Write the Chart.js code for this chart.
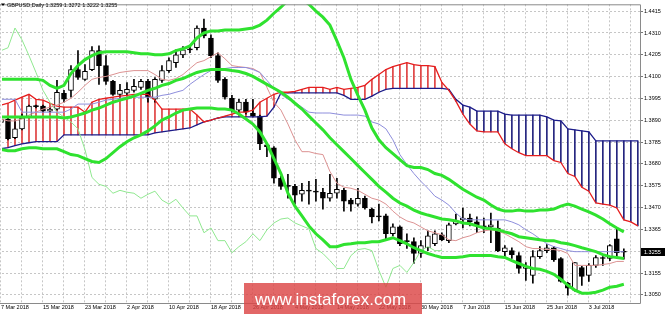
<!DOCTYPE html>
<html>
<head>
<meta charset="utf-8">
<script src="https://cdn.jsdelivr.net/npm/chart.js@4.4.1/dist/chart.umd.min.js"></script>
<style>
  html, body { margin: 0; padding: 0; background: #fff; }
  #wrap { position: relative; width: 665px; height: 314px; }
</style>
</head>
<body>
<div id="wrap"><canvas id="chart" width="665" height="314"></canvas></div>
<script>
// GBPUSD daily, 7 Mar 2018 .. 10 Jul 2018 (bar index 0 = 7 Mar)
var symbol = 'GBPUSD,Daily';

var dateLabels = ['7 Mar 2018', '15 Mar 2018', '23 Mar 2018', '2 Apr 2018', '10 Apr 2018',
  '18 Apr 2018', '26 Apr 2018', '4 May 2018', '14 May 2018', '22 May 2018', '30 May 2018',
  '7 Jun 2018', '15 Jun 2018', '25 Jun 2018', '3 Jul 2018'];
var dateIdx = [0, 6, 12, 18, 24, 30, 36, 42, 48, 54, 60, 66, 72, 78, 84];

var yTicks = [1.4415, 1.4310, 1.4205, 1.4100, 1.3995, 1.3890, 1.3785, 1.3680,
  1.3575, 1.3470, 1.3365, 1.3260, 1.3155, 1.3050];
var hiddenYTick = 1.3260;

var opens = [1.3880,1.3896,1.3806,1.3849,1.3906,1.3958,1.3958,1.3934,1.3944,1.4020,
  1.4034,1.4134,1.4087,1.4134,1.4225,1.4153,1.4077,1.4015,1.4020,1.4034,
  1.4048,1.4077,1.3991,1.4082,1.4129,1.4167,1.4205,1.4229,1.4239,1.4334,
  1.4286,1.4201,1.4087,1.3996,1.3939,1.3977,1.3925,1.3910,1.3772,1.3758,
  1.3611,1.3577,1.3572,1.3534,1.3553,1.3549,1.3544,1.3515,1.3539,1.3553,
  1.3506,1.3487,1.3515,1.3463,1.3430,1.3430,1.3344,1.3377,1.3311,1.3306,
  1.3249,1.3277,1.3296,1.3339,1.3311,1.3392,1.3411,1.3420,1.3401,1.3382,
  1.3377,1.3372,1.3258,1.3263,1.3239,1.3177,1.3144,1.3234,1.3263,1.3277,
  1.3225,1.3106,1.3073,1.3182,1.3144,1.3192,1.3225,1.3225,1.3320,1.3259];
var highs = [1.3935,1.3906,1.3891,1.3920,1.3963,1.3963,1.3963,1.3953,1.4082,1.4034,
  1.4153,1.4225,1.4158,1.4244,1.4248,1.4201,1.4082,1.4063,1.4072,1.4087,
  1.4087,1.4087,1.4096,1.4153,1.4191,1.4229,1.4244,1.4248,1.4345,1.4377,
  1.4301,1.4215,1.4096,1.4010,1.3991,1.3991,1.3991,1.3915,1.3777,1.3763,
  1.3620,1.3630,1.3582,1.3587,1.3596,1.3606,1.3563,1.3630,1.3611,1.3563,
  1.3515,1.3563,1.3525,1.3468,1.3487,1.3439,1.3392,1.3382,1.3344,1.3325,
  1.3311,1.3358,1.3358,1.3349,1.3396,1.3439,1.3468,1.3439,1.3425,1.3420,
  1.3444,1.3406,1.3287,1.3277,1.3253,1.3206,1.3263,1.3282,1.3292,1.3282,
  1.3230,1.3111,1.3206,1.3187,1.3201,1.3239,1.3234,1.3292,1.3368,1.3272];
var lows = [1.3862,1.3796,1.3801,1.3844,1.3901,1.3949,1.3929,1.3929,1.3939,1.3977,
  1.4001,1.4087,1.4082,1.4129,1.4063,1.4063,1.4010,1.4001,1.4010,1.4025,
  1.4039,1.3977,1.3977,1.4072,1.4120,1.4144,1.4191,1.4215,1.4229,1.4286,
  1.4191,1.4072,1.3991,1.3929,1.3929,1.3920,1.3906,1.3749,1.3715,1.3587,
  1.3558,1.3515,1.3487,1.3501,1.3487,1.3501,1.3463,1.3501,1.3515,1.3453,
  1.3453,1.3477,1.3463,1.3396,1.3406,1.3311,1.3334,1.3287,1.3273,1.3201,
  1.3230,1.3263,1.3287,1.3311,1.3301,1.3387,1.3372,1.3382,1.3349,1.3349,
  1.3301,1.3258,1.3230,1.3225,1.3154,1.3120,1.3106,1.3225,1.3253,1.3211,
  1.3111,1.3049,1.3068,1.3096,1.3115,1.3182,1.3192,1.3215,1.3234,1.3222];
var closes = [1.3896,1.3801,1.3849,1.3901,1.3958,1.3956,1.3934,1.3944,1.4025,1.3991,
  1.4134,1.4096,1.4125,1.4225,1.4153,1.4077,1.4015,1.4034,1.4039,1.4053,
  1.4077,1.4001,1.4087,1.4129,1.4177,1.4205,1.4229,1.4234,1.4334,1.4296,
  1.4201,1.4082,1.4001,1.3939,1.3977,1.3929,1.3910,1.3777,1.3763,1.3611,
  1.3572,1.3572,1.3530,1.3553,1.3549,1.3544,1.3515,1.3539,1.3558,1.3501,
  1.3487,1.3515,1.3468,1.3425,1.3425,1.3344,1.3377,1.3296,1.3306,1.3249,
  1.3287,1.3334,1.3344,1.3315,1.3387,1.3406,1.3420,1.3401,1.3387,1.3377,
  1.3387,1.3263,1.3277,1.3244,1.3177,1.3187,1.3234,1.3263,1.3277,1.3220,
  1.3115,1.3082,1.3206,1.3139,1.3192,1.3230,1.3227,1.3287,1.3253,1.3255];

// Ichimoku
var tenkan = [1.3896,1.3887,1.3887,1.3896,1.3915,1.3929,1.3944,1.3953,1.3963,1.3977,
  1.3996,1.4025,1.4058,1.4087,1.4096,1.4101,1.4110,1.4120,1.4125,1.4129,
  1.4129,1.4129,1.4110,1.4087,1.4082,1.4091,1.4110,1.4139,1.4167,1.4177,
  1.4196,1.4215,1.4186,1.4153,1.4148,1.4144,1.4139,1.4120,1.4048,1.3977,
  1.3939,1.3872,1.3796,1.3739,1.3739,1.3730,1.3725,1.3644,1.3587,1.3568,
  1.3563,1.3553,1.3534,1.3515,1.3506,1.3487,1.3453,1.3425,1.3406,1.3396,
  1.3377,1.3358,1.3349,1.3339,1.3315,1.3311,1.3325,1.3334,1.3349,1.3358,
  1.3363,1.3358,1.3344,1.3325,1.3306,1.3282,1.3273,1.3273,1.3268,1.3268,
  1.3263,1.3249,1.3192,1.3192,1.3192,1.3192,1.3196,1.3201,1.3211,1.3211];
var kijun = [1.3991,1.3991,1.3991,1.3929,1.3929,1.3929,1.3929,1.3929,1.3929,1.3929,
  1.3944,1.3968,1.3968,1.3968,1.3977,1.3987,1.3991,1.3996,1.4001,1.4001,
  1.4001,1.4001,1.4001,1.4010,1.4015,1.4025,1.4034,1.4063,1.4087,1.4110,
  1.4129,1.4134,1.4139,1.4144,1.4144,1.4144,1.4134,1.4120,1.4082,1.4044,
  1.4015,1.3991,1.3977,1.3953,1.3929,1.3925,1.3925,1.3925,1.3920,1.3915,
  1.3915,1.3915,1.3910,1.3882,1.3872,1.3849,1.3796,1.3725,1.3677,1.3634,
  1.3596,1.3563,1.3525,1.3506,1.3482,1.3444,1.3415,1.3411,1.3411,1.3411,
  1.3411,1.3411,1.3411,1.3401,1.3387,1.3363,1.3344,1.3320,1.3296,1.3282,
  1.3273,1.3263,1.3258,1.3258,1.3258,1.3258,1.3258,1.3258,1.3258,1.3258];
var chikou = [1.4225,1.4239,1.4334,1.4277,1.4201,1.4120,1.4034,1.3977,1.3929,1.3906,
  1.3882,1.3849,1.3749,1.3615,1.3582,1.3572,1.3539,1.3553,1.3544,1.3539,
  1.3515,1.3534,1.3549,1.3506,1.3487,1.3510,1.3468,1.3430,1.3430,1.3349,
  1.3372,1.3311,1.3311,1.3253,1.3282,1.3306,1.3344,1.3311,1.3363,1.3396,
  1.3415,1.3420,1.3396,1.3382,1.3368,1.3273,1.3249,1.3215,1.3177,1.3177,
  1.3239,1.3268,1.3273,1.3263,1.3168,1.3087,1.3177,1.3192,1.3158,1.3206,
  1.3263,1.3282,1.3263,1.3263];
var senkouA = [1.3963,1.3972,1.3987,1.4001,1.4015,1.3991,1.3987,1.3972,1.3958,1.3953,
  1.3953,1.3953,1.3929,1.3977,1.3991,1.3996,1.4001,1.4006,1.4010,1.4015,
  1.4015,1.4015,1.3987,1.3944,1.3944,1.3944,1.3944,1.3944,1.3915,1.3882,
  1.3891,1.3901,1.3910,1.3920,1.3929,1.3929,1.3939,1.3977,1.3996,1.4015,
  1.4025,1.4025,1.4029,1.4039,1.4048,1.4048,1.4048,1.4039,1.4048,1.4039,
  1.4044,1.4048,1.4058,1.4087,1.4110,1.4134,1.4148,1.4158,1.4167,1.4158,
  1.4153,1.4153,1.4148,1.4072,1.4034,1.3982,1.3920,1.3872,1.3839,1.3834,
  1.3834,1.3834,1.3777,1.3753,1.3734,1.3720,1.3720,1.3720,1.3720,1.3696,
  1.3687,1.3634,1.3620,1.3568,1.3549,1.3492,1.3487,1.3482,1.3468,1.3411,
  1.3401,1.3382];
var senkouB = [1.3753,1.3758,1.3768,1.3777,1.3782,1.3787,1.3787,1.3787,1.3787,1.3820,
  1.3820,1.3820,1.3820,1.3820,1.3820,1.3820,1.3820,1.3820,1.3820,1.3820,
  1.3820,1.3820,1.3829,1.3834,1.3839,1.3844,1.3849,1.3853,1.3868,1.3882,
  1.3891,1.3901,1.3906,1.3906,1.3906,1.3906,1.3906,1.3906,1.3910,1.3953,
  1.4022,1.4022,1.4022,1.4022,1.4022,1.4022,1.4022,1.4022,1.4022,1.4010,
  1.3991,1.3991,1.3991,1.4006,1.4025,1.4039,1.4044,1.4044,1.4044,1.4044,
  1.4044,1.4044,1.4044,1.4044,1.4039,1.3991,1.3963,1.3953,1.3934,1.3934,
  1.3934,1.3934,1.3920,1.3915,1.3915,1.3915,1.3915,1.3915,1.3906,1.3891,
  1.3887,1.3849,1.3844,1.3839,1.3834,1.3791,1.3791,1.3791,1.3791,1.3791,
  1.3791,1.3791];

// Bollinger bands
var bbUpper = [1.4087,1.4087,1.4087,1.4087,1.4087,1.4087,1.4082,1.4058,1.4044,1.4058,
  1.4115,1.4153,1.4182,1.4201,1.4215,1.4220,1.4220,1.4220,1.4220,1.4215,
  1.4210,1.4210,1.4205,1.4205,1.4210,1.4225,1.4234,1.4248,1.4286,1.4310,
  1.4320,1.4320,1.4324,1.4324,1.4324,1.4329,1.4334,1.4348,1.4372,1.4405,
  1.4434,1.4467,1.4482,1.4472,1.4448,1.4415,1.4386,1.4348,1.4272,1.4191,
  1.4087,1.4010,1.3939,1.3853,1.3796,1.3758,1.3730,1.3701,1.3672,1.3663,
  1.3663,1.3653,1.3634,1.3625,1.3606,1.3582,1.3558,1.3539,1.3520,1.3506,
  1.3482,1.3463,1.3453,1.3453,1.3458,1.3453,1.3453,1.3458,1.3458,1.3463,
  1.3477,1.3487,1.3477,1.3463,1.3449,1.3434,1.3415,1.3392,1.3372,1.3353];
var bbMiddle = [1.3906,1.3906,1.3906,1.3906,1.3906,1.3906,1.3906,1.3906,1.3906,1.3901,
  1.3906,1.3915,1.3925,1.3939,1.3949,1.3963,1.3977,1.3987,1.3996,1.4006,
  1.4020,1.4034,1.4044,1.4058,1.4067,1.4082,1.4091,1.4106,1.4120,1.4129,
  1.4134,1.4134,1.4134,1.4129,1.4125,1.4115,1.4101,1.4082,1.4063,1.4044,
  1.4025,1.4001,1.3972,1.3944,1.3910,1.3877,1.3844,1.3806,1.3772,1.3739,
  1.3706,1.3672,1.3639,1.3606,1.3572,1.3544,1.3515,1.3492,1.3477,1.3458,
  1.3444,1.3434,1.3425,1.3415,1.3411,1.3406,1.3396,1.3392,1.3382,1.3372,
  1.3368,1.3363,1.3353,1.3344,1.3330,1.3325,1.3320,1.3315,1.3311,1.3311,
  1.3301,1.3296,1.3287,1.3277,1.3268,1.3258,1.3244,1.3234,1.3230,1.3225];
var bbLower = [1.3749,1.3744,1.3744,1.3753,1.3758,1.3758,1.3753,1.3753,1.3753,1.3739,
  1.3725,1.3720,1.3706,1.3692,1.3687,1.3706,1.3734,1.3763,1.3787,1.3806,
  1.3820,1.3839,1.3863,1.3891,1.3906,1.3925,1.3939,1.3944,1.3949,1.3949,
  1.3949,1.3944,1.3944,1.3939,1.3920,1.3896,1.3872,1.3834,1.3777,1.3706,
  1.3634,1.3539,1.3477,1.3430,1.3382,1.3344,1.3315,1.3282,1.3282,1.3292,
  1.3296,1.3301,1.3301,1.3306,1.3306,1.3315,1.3325,1.3311,1.3296,1.3277,
  1.3263,1.3249,1.3239,1.3230,1.3230,1.3230,1.3234,1.3239,1.3239,1.3239,
  1.3239,1.3234,1.3230,1.3215,1.3201,1.3187,1.3177,1.3173,1.3163,1.3149,
  1.3125,1.3096,1.3073,1.3058,1.3058,1.3063,1.3073,1.3087,1.3092,1.3101];

var FONT = '"Liberation Sans", Arial, sans-serif';

function points(values) {
  return values.map(function(v, i) { return {x: i, y: v}; });
}

function ranges(a, b) {
  return a.map(function(v, i) { return {x: i, y: [v, b[i]]}; });
}

// white body for rising bars, tiny bodies drawn as a black dash like MT4
var bodyColors = opens.map(function(o, i) {
  return (closes[i] - o > 0.0009) ? '#ffffff' : '#000000';
});
var hatchColors = senkouA.map(function(a, i) {
  return a >= senkouB[i] ? '#df4040' : '#25257f';
});

var xGrid = [];
for (var g = 0; g <= 90; g += 3) {
  xGrid.push(g);
}

function line(label, values, color, width, order) {
  return {
    type: 'line', label: label, data: points(values), borderColor: color,
    borderWidth: width, pointRadius: 0, tension: 0, fill: false, order: order
  };
}

var framePlugin = {
  id: 'frame',
  afterDraw: function(chart) {
    var c = chart.ctx, a = chart.chartArea;
    c.save();
    c.strokeStyle = '#8a8a8a';
    c.lineWidth = 1;
    c.beginPath();
    c.moveTo(0, a.top + 0.5);
    c.lineTo(a.right + 0.5, a.top + 0.5);
    c.lineTo(a.right + 0.5, a.bottom + 0.5);
    c.lineTo(0, a.bottom + 0.5);
    c.stroke();

    // current price box on the price axis
    var last = closes[closes.length - 1];
    var py = Math.round(chart.scales.y.getPixelForValue(last));
    c.fillStyle = '#000';
    c.fillRect(a.right + 1, py - 4, 24, 8);
    c.fillStyle = '#fff';
    c.font = '5.5px ' + FONT;
    c.textBaseline = 'middle';
    c.fillText(last.toFixed(4), a.right + 4, py + 0.5);

    // symbol line in the top left corner
    var n = opens.length - 1;
    c.fillStyle = '#000';
    c.beginPath();
    c.moveTo(1, 3.5);
    c.lineTo(5, 3.5);
    c.lineTo(3, 6);
    c.fill();
    c.fillText(symbol + ' ' + opens[n].toFixed(4) + ' ' + highs[n].toFixed(4) + ' ' +
      lows[n].toFixed(4) + ' ' + closes[n].toFixed(4), 7, 5);

    // watermark
    c.fillStyle = 'rgba(220, 70, 70, 0.82)';
    c.fillRect(244, 283, 178, 31);
    c.fillStyle = '#fff';
    c.font = '17px ' + FONT;
    c.textBaseline = 'alphabetic';
    c.fillText('www.instaforex.com', 255, 305);
    c.restore();
  }
};

var ctx = document.getElementById('chart').getContext('2d');
new Chart(ctx, {
  type: 'bar',
  data: {
    datasets: [
      line('BB upper', bbUpper, '#2fe22f', 3, 1),
      line('BB middle', bbMiddle, '#2fe22f', 3, 1),
      line('BB lower', bbLower, '#2fe22f', 3, 1),
      line('Kijun', kijun, '#8e8edc', 1, 2),
      line('Tenkan', tenkan, '#dc9292', 1, 2),
      line('Chikou', chikou, '#90e890', 1, 3),
      line('Senkou A', senkouA, '#e61e1e', 1.3, 4),
      line('Senkou B', senkouB, '#1c1c8a', 1.3, 4),
      {
        type: 'bar', label: 'bodies', data: ranges(opens, closes),
        backgroundColor: bodyColors, borderColor: '#000', borderWidth: 1,
        borderSkipped: false, barThickness: 5, minBarLength: 1, grouped: false, order: 5
      },
      {
        type: 'bar', label: 'wicks', data: ranges(lows, highs),
        backgroundColor: '#000', barThickness: 1, grouped: false, order: 6
      },
      {
        type: 'bar', label: 'cloud', data: ranges(senkouA, senkouB),
        backgroundColor: hatchColors, barThickness: 1, grouped: false, order: 7
      }
    ]
  },
  options: {
    responsive: false,
    animation: false,
    devicePixelRatio: 1,
    events: [],
    layout: { padding: { top: 1, left: 0, right: 0, bottom: 0 } },
    plugins: { legend: { display: false }, tooltip: { enabled: false } },
    scales: {
      x: {
        type: 'linear', min: 0.142, max: 91.31, offset: false,
        grid: { color: '#c6c6c6', drawTicks: false, offset: false },
        border: { display: false, dash: [2, 2] },
        ticks: {
          autoSkip: false, maxRotation: 0, align: 'start', padding: 1, color: '#000',
          font: { family: FONT, size: 5.5 },
          callback: function(v) {
            var k = dateIdx.indexOf(v);
            return k >= 0 ? dateLabels[k] : '';
          }
        },
        afterBuildTicks: function(s) {
          s.ticks = xGrid.map(function(v) { return {value: v}; });
        },
        afterFit: function(s) { s.height = 11; }
      },
      y: {
        type: 'linear', position: 'right', min: 1.3011, max: 1.4448, beginAtZero: false,
        grid: { color: '#c6c6c6', tickLength: 3, tickColor: '#777' },
        border: { display: false, dash: [2, 2] },
        ticks: {
          padding: 1, color: '#000', autoSkip: false,
          font: { family: FONT, size: 5.5 },
          callback: function(v) {
            return Math.abs(v - hiddenYTick) < 1e-6 ? '' : v.toFixed(4);
          }
        },
        afterBuildTicks: function(s) {
          s.ticks = yTicks.map(function(v) { return {value: v}; });
        },
        afterFit: function(s) { s.width = 25; }
      }
    }
  },
  plugins: [framePlugin]
});
</script>
</body>
</html>
